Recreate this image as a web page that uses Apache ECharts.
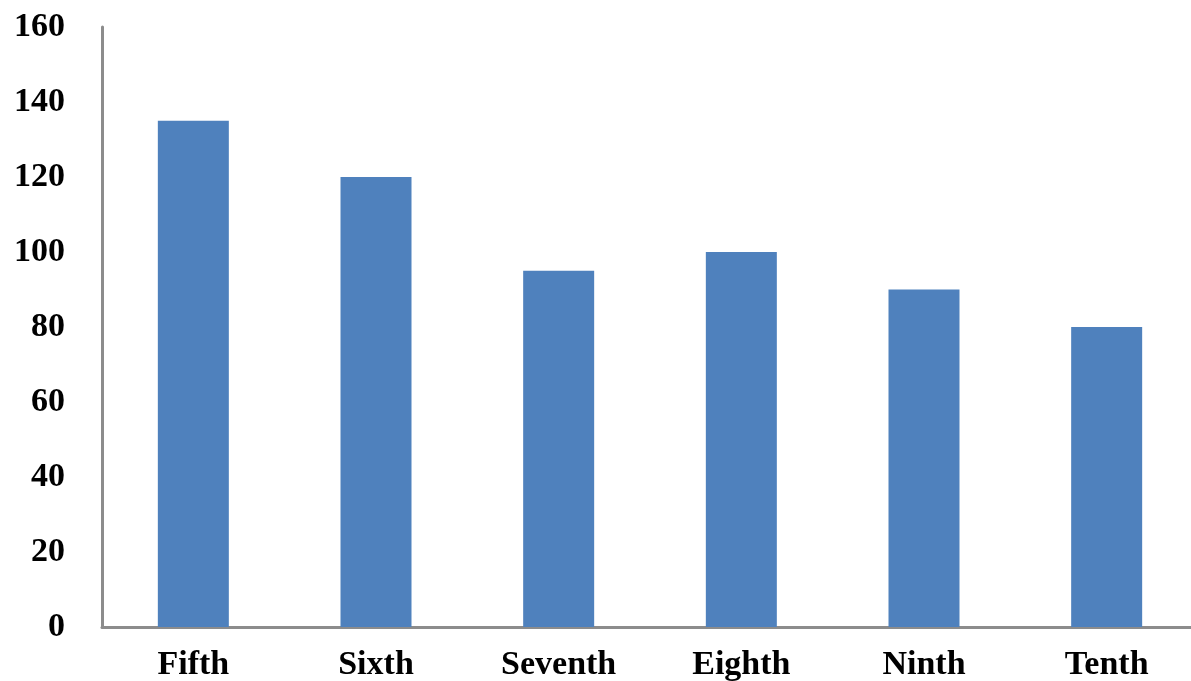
<!DOCTYPE html>
<html>
<head>
<meta charset="utf-8">
<script src="https://cdn.jsdelivr.net/npm/echarts@6/dist/echarts.min.js"></script>
<style>
html,body{margin:0;padding:0;background:#fff;overflow:hidden;}
#chart{width:1191px;height:681px;}
</style>
</head>
<body>
<div id="chart"></div>
<script>
const categories = ['Fifth', 'Sixth', 'Seventh', 'Eighth', 'Ninth', 'Tenth'];
const values = [135, 120, 95, 100, 90, 80];
const yTicks = [0, 20, 40, 60, 80, 100, 120, 140, 160];

const chart = echarts.init(document.getElementById('chart'));
chart.setOption({
  animation: false,
  backgroundColor: '#ffffff',
  grid: { left: 102, width: 1096, top: 27, bottom: 54, containLabel: false, outerBoundsMode: 'none' },
  xAxis: {
    type: 'category',
    data: categories,
    axisLine: { show: true, lineStyle: { color: '#8c8c8c', width: 3 } },
    axisTick: { show: false },
    axisLabel: {
      margin: 21,
      color: '#000',
      fontFamily: 'Liberation Serif',
      fontWeight: 'bold',
      fontSize: 34
    }
  },
  yAxis: {
    type: 'value',
    min: yTicks[0],
    max: yTicks[yTicks.length - 1],
    interval: 20,
    splitLine: { show: false },
    axisLine: { show: true, lineStyle: { color: '#8c8c8c', width: 3 } },
    axisTick: { show: false },
    axisLabel: {
      margin: 37,
      color: '#000',
      fontFamily: 'Liberation Serif',
      fontWeight: 'bold',
      fontSize: 34
    }
  },
  series: [{
    type: 'bar',
    data: values,
    barWidth: 71,
    itemStyle: { color: '#4f81bd' }
  }]
});
</script>
</body>
</html>
